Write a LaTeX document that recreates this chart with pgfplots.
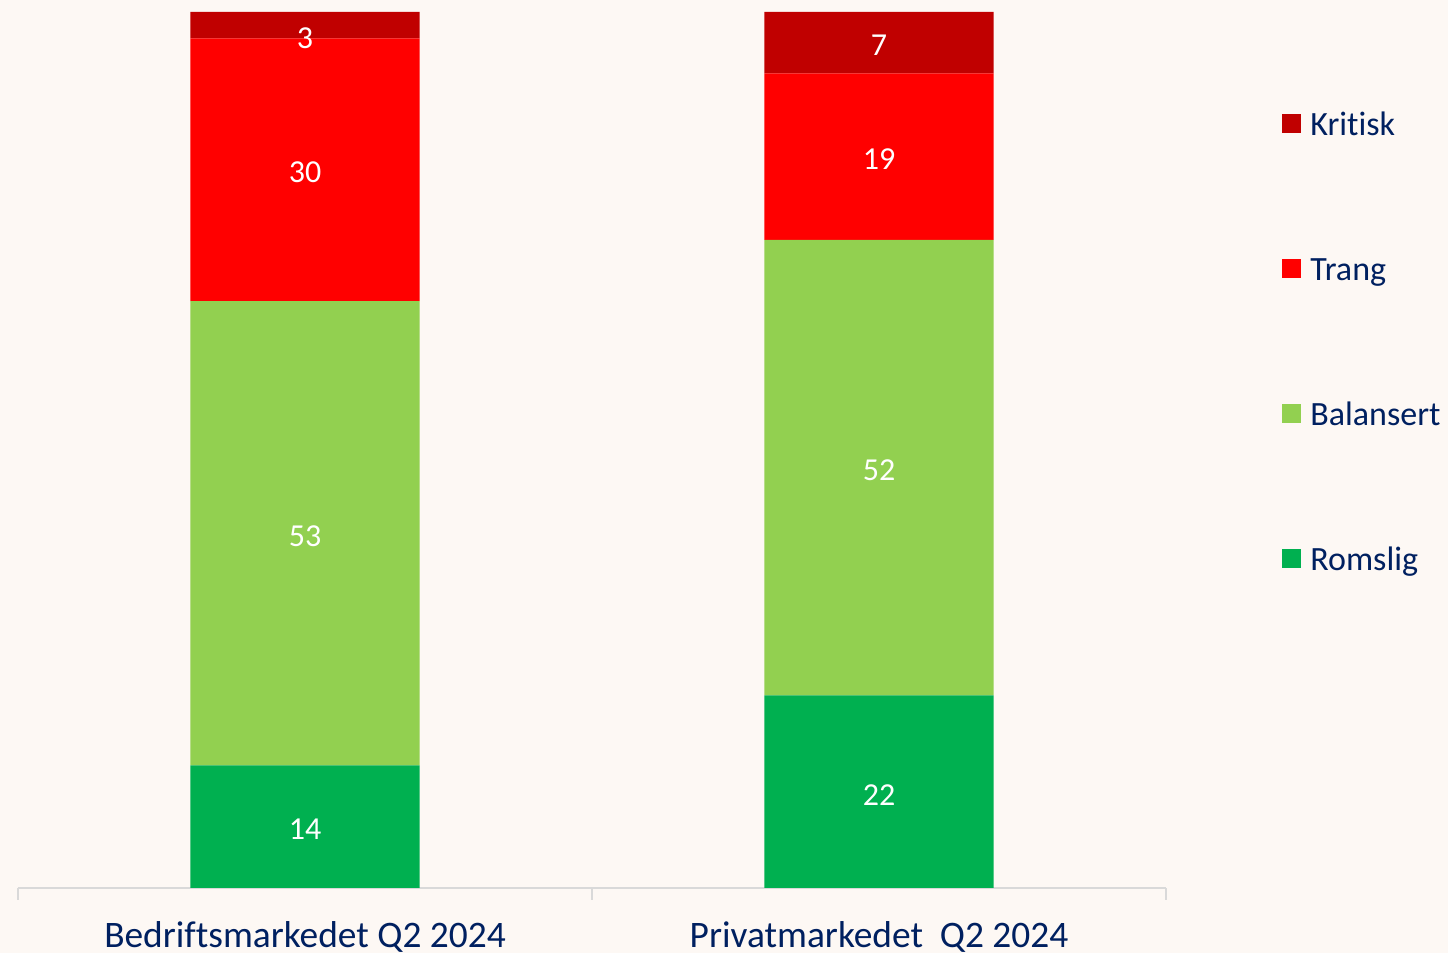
\documentclass[border=0pt]{standalone}
\usepackage{pgfplots}
\pgfplotsset{compat=1.18}
\usepackage{fontspec}
\setmainfont{Carlito}[Ligatures=NoCommon]
\definecolor{bg}{HTML}{FDF8F4}
\definecolor{kritisk}{HTML}{C00000}
\definecolor{trang}{HTML}{FF0000}
\definecolor{balansert}{HTML}{92D050}
\definecolor{romslig}{HTML}{00B050}
\definecolor{txt}{HTML}{002060}
\definecolor{axisgray}{HTML}{D9D9D9}
\begin{document}
\begin{tikzpicture}
\path[use as bounding box, fill=bg] (0,0) rectangle (724pt,476.5pt);
\begin{axis}[
  at={(9pt,32.5pt)}, anchor=south west,
  scale only axis, width=574pt, height=438pt,
  ybar stacked, bar width=0.399,
  xmin=-0.5, xmax=1.5, ymin=0, ymax=100,
  axis x line*=bottom, axis y line=none,
  axis line style={draw=axisgray, line width=1pt},
  xtick={0,1}, xticklabels={Bedriftsmarkedet Q2 2024, Privatmarkedet\ \ Q2 2024},
  major tick length=0pt,
  minor xtick={-0.5,0.5,1.5}, minor tick length=6pt, tick align=outside,
  minor tick style={draw=axisgray, line width=1pt},
  xticklabel style={font=\fontsize{18.7}{22}\selectfont, text=txt, anchor=base, yshift=-30pt, inner sep=0pt},
  nodes near coords, point meta=explicit,
  /pgf/number format/assume math mode=true,
  every node near coord/.style={font=\fontsize{16}{19}\selectfont, text=white, anchor=center, yshift=-1.5pt},
  reverse legend,
  legend cell align=left,
  legend style={draw=none, fill=none, inner sep=0pt, row sep=57.5pt,
    font=\fontsize{17}{20}\selectfont, text=txt,
    at={(axis description cs:1.101,0.618)}, anchor=west,
    nodes={inner sep=0pt, text height=10.5pt, text depth=4.5pt}},
  legend image code/.code={\fill (0pt,-2pt) rectangle (9.5pt,7.5pt); \path (14pt,0pt);},
]
\addplot[fill=romslig, draw=none] coordinates {(0,14) [14] (1,22) [22]};
\addplot[fill=balansert, draw=none] coordinates {(0,53) [53] (1,52) [52]};
\addplot[fill=trang, draw=none] coordinates {(0,30) [30] (1,19) [19]};
\addplot[fill=kritisk, draw=none,
  visualization depends on=x \as \xv,
  every node near coord/.append style={yshift={(5*\xv-5)*1pt}}]
  coordinates {(0,3) [3] (1,7) [7]};
\legend{Romslig, Balansert, Trang, Kritisk}
\end{axis}
\end{tikzpicture}
\end{document}
